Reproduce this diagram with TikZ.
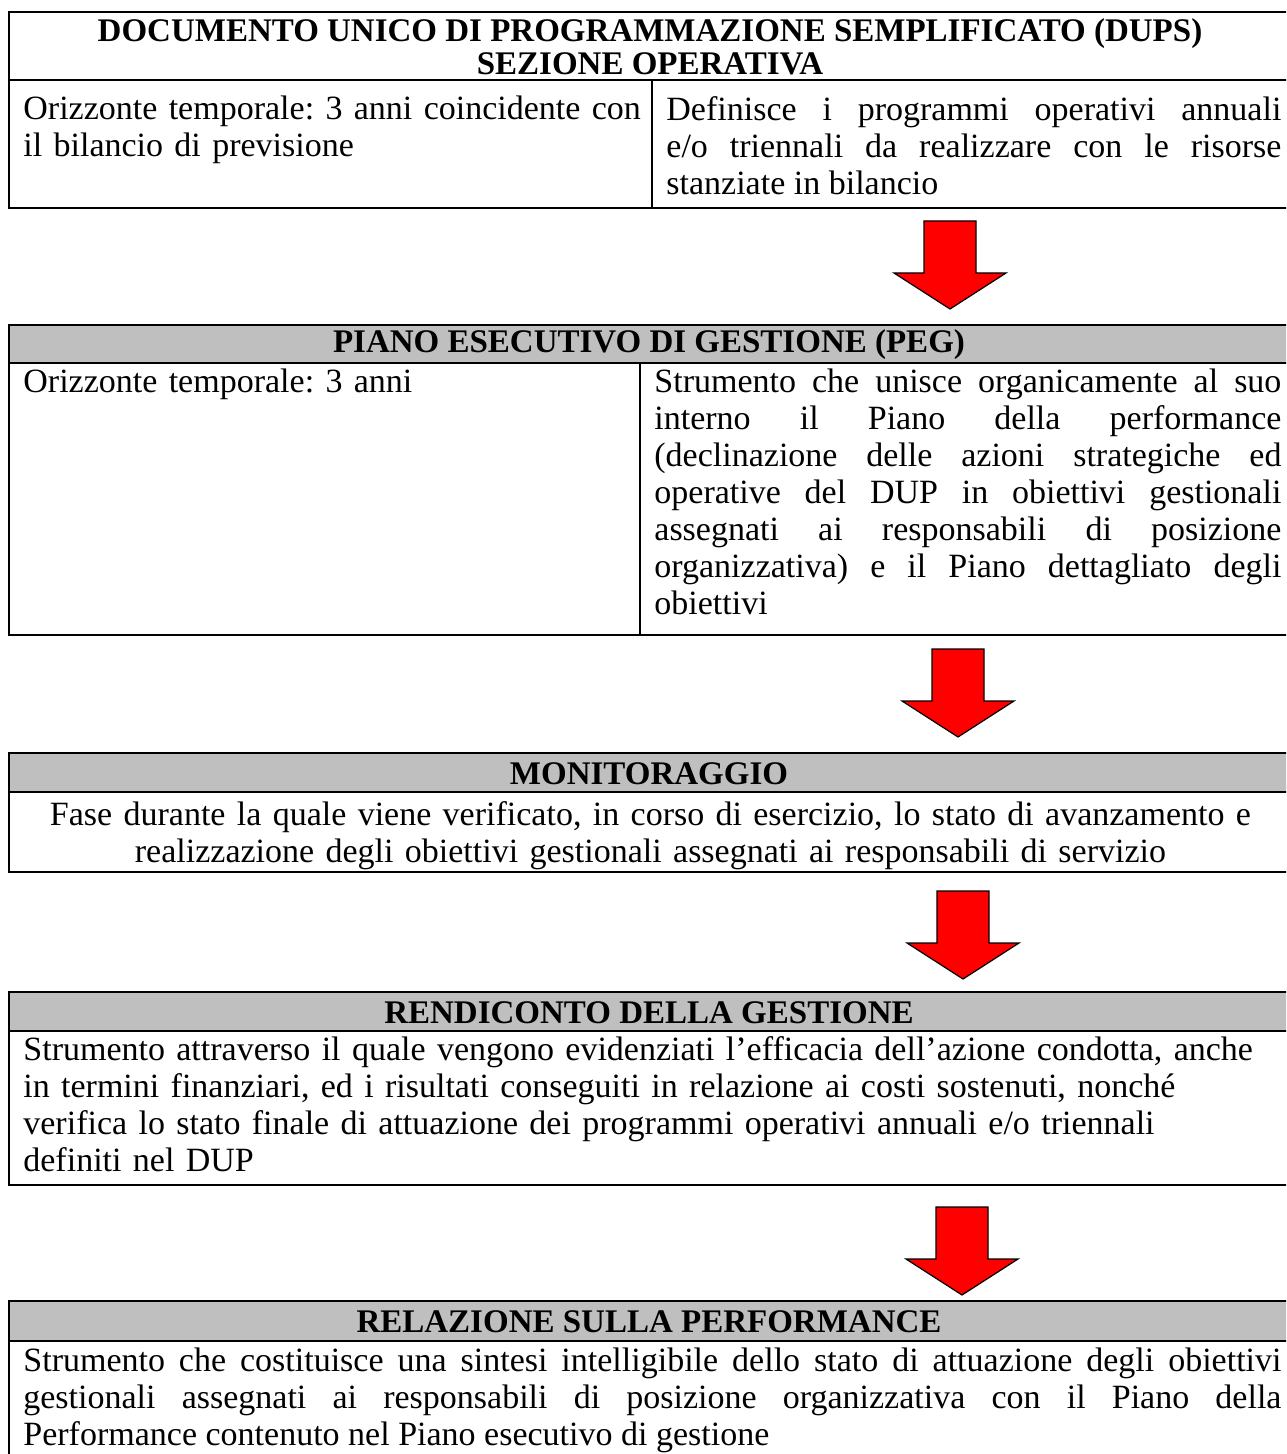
\documentclass[tikz,border=0pt]{standalone}
\usepackage{fontspec}
\setmainfont{Liberation Serif}
\usetikzlibrary{positioning}
\frenchspacing

\tikzset{
  redarrow/.pic={
    \draw[fill=red, line width=0.6pt] (-26,0) -- (26,0) -- (26,52) -- (56,52)
      -- (0,88) -- (-56,52) -- (-26,52) -- cycle;
  }
}

\begin{document}
\begin{tikzpicture}[
  x=0.5pt, y=-0.5pt,
  rule/.style={line width=1.3pt},
  hdr/.style={fill=black!25},
  title/.style={font=\fontsize{16.5}{16.5}\selectfont\bfseries, align=center, inner sep=0pt},
  cell/.style={anchor=north west, font=\fontsize{17}{18.5}\selectfont, inner xsep=7pt, align=left},
  cellJ/.style={cell, align=justify},
  cellC/.style={cell, align=center}
]
\useasboundingbox (0,0) rectangle (1286,1454);
\clip (0,0) rectangle (1286,1454);

% ================= DUPS =================
\draw[rule] (9,12) rectangle (1292,208);
\draw[rule] (9,80) -- (1292,80);
\draw[rule] (652,80) -- (652,208);
\node[title] (dupsT) at (650,47) {DOCUMENTO UNICO DI PROGRAMMAZIONE SEMPLIFICATO (DUPS)\\SEZIONE OPERATIVA};
\node[cell, inner ysep=8pt, text width=310pt] (dupsL) at (9,80) {Orizzonte temporale: 3 anni coincidente con\\il bilancio di previsione};
\node[cellJ, inner ysep=8pt, text width=307.5pt] (dupsR) at (652,80) {Definisce i programmi operativi annuali\linebreak e/o triennali da realizzare con le risorse\linebreak stanziate in bilancio};

\pic at (950,221) {redarrow};

% ================= PEG =================
\fill[hdr] (9,325) rectangle (1292,363);
\draw[rule] (9,325) rectangle (1292,635);
\draw[rule] (9,363) -- (1292,363);
\draw[rule] (640,363) -- (640,635);
\node[title] (pegT) at (649,345) {PIANO ESECUTIVO DI GESTIONE (PEG)};
\node[cell, inner ysep=3pt, text width=305pt] (pegL) at (9,363) {Orizzonte temporale: 3 anni};
\node[cellJ, inner ysep=3pt, text width=313.5pt] (pegR) at (640,363) {Strumento che unisce organicamente al suo\linebreak interno il Piano della performance\linebreak (declinazione delle azioni strategiche ed\linebreak operative del DUP in obiettivi gestionali\linebreak assegnati ai responsabili di posizione\linebreak organizzativa) e il Piano dettagliato degli\linebreak obiettivi};

\pic at (958,649) {redarrow};

% ================= MONITORAGGIO =================
\fill[hdr] (9,753) rectangle (1292,792);
\draw[rule] (9,753) rectangle (1292,872);
\draw[rule] (9,792) -- (1292,792);
\node[title] (monT) at (649,773.5) {MONITORAGGIO};
\node[cellC, inner ysep=4.5pt, text width=627pt] (monB) at (9,792) {Fase durante la quale viene verificato, in corso di esercizio, lo stato di avanzamento e\\realizzazione degli obiettivi gestionali assegnati ai responsabili di servizio};

\pic at (963,891) {redarrow};

% ================= RENDICONTO =================
\fill[hdr] (9,992) rectangle (1292,1031);
\draw[rule] (9,992) rectangle (1292,1185);
\draw[rule] (9,1031) -- (1292,1031);
\node[title] (rendT) at (649,1012.5) {RENDICONTO DELLA GESTIONE};
\node[cell, inner ysep=2.5pt, text width=629pt] (rendB) at (9,1031) {Strumento attraverso il quale vengono evidenziati l’efficacia dell’azione condotta, anche\\in termini finanziari, ed i risultati conseguiti in relazione ai costi sostenuti, nonché\\verifica lo stato finale di attuazione dei programmi operativi annuali e/o triennali\\definiti nel DUP};

\pic at (962,1207) {redarrow};

% ================= PERFORMANCE =================
\fill[hdr] (9,1301) rectangle (1292,1341);
\draw[rule] (9,1301) rectangle (1292,1470);
\draw[rule] (9,1341) -- (1292,1341);
\node[title] (perfT) at (649,1322) {RELAZIONE SULLA PERFORMANCE};
\node[cellJ, inner ysep=3pt, text width=629pt] (perfB) at (9,1341) {Strumento che costituisce una sintesi intelligibile dello stato di attuazione degli obiettivi\linebreak gestionali assegnati ai responsabili di posizione organizzativa con il Piano della\linebreak Performance contenuto nel Piano esecutivo di gestione};

\end{tikzpicture}
\end{document}
